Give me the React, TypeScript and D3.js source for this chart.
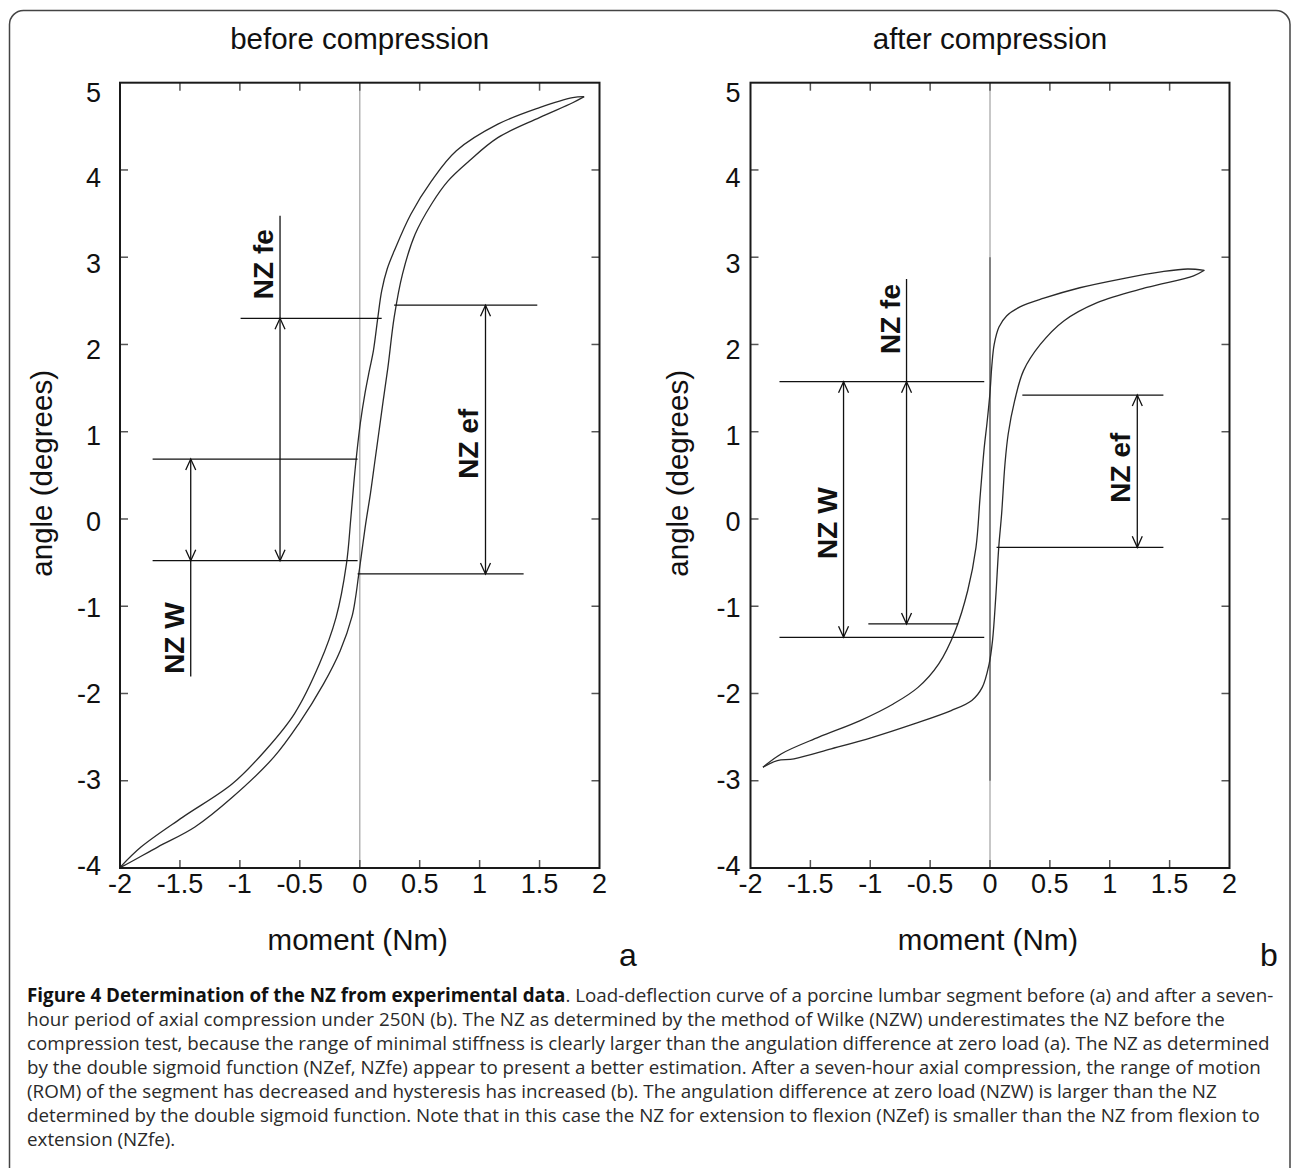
import * as d3 from 'd3';
import React from 'react';

const WIDTH = 1293;
const HEIGHT = 1168;
const PLOT_TOP = 82.7;
const PLOT_BOTTOM = 868;

const X_TICKS = [-2, -1.5, -1, -0.5, 0, 0.5, 1, 1.5, 2];
const Y_TICKS = [-4, -3, -2, -1, 0, 1, 2, 3, 4, 5];

type Pt = [number, number];

// before compression: loading branch (upper/left) and unloading branch (lower/right)
const BEFORE_UP: Pt[] = [
  [-1.998, -3.99], [-1.825, -3.76], [-1.479, -3.42], [-1.063, -3.035], [-0.786, -2.65],
  [-0.544, -2.23], [-0.336, -1.66], [-0.198, -1.13], [-0.111, -0.515], [-0.075, 0.0],
  [-0.05, 0.4], [-0.025, 0.75], [0.005, 1.1], [0.045, 1.45], [0.08, 1.7], [0.114, 1.93],
  [0.15, 2.3], [0.183, 2.615], [0.23, 2.87], [0.287, 3.07], [0.425, 3.49], [0.599, 3.875],
  [0.806, 4.22], [1.152, 4.525], [1.499, 4.715], [1.776, 4.83], [1.872, 4.84],
];
const BEFORE_DOWN: Pt[] = [
  [1.872, 4.84], [1.776, 4.77], [1.499, 4.6], [1.152, 4.37], [0.91, 4.1], [0.737, 3.875],
  [0.599, 3.61], [0.461, 3.26], [0.357, 2.81], [0.287, 2.31], [0.235, 1.737],
  [0.195, 1.35], [0.16, 1.0], [0.125, 0.65], [0.09, 0.3], [0.05, -0.05], [0.015, -0.4],
  [-0.01, -0.65], [-0.035, -0.9], [-0.065, -1.12], [-0.163, -1.51], [-0.302, -1.89],
  [-0.51, -2.35], [-0.717, -2.73], [-1.063, -3.19], [-1.375, -3.53], [-1.686, -3.76],
  [-1.963, -3.97], [-1.998, -3.99],
];

// after compression
const AFTER_UP: Pt[] = [
  [-1.896, -2.845], [-1.741, -2.69], [-1.43, -2.5], [-1.084, -2.31], [-0.808, -2.12],
  [-0.601, -1.93], [-0.428, -1.66], [-0.29, -1.28], [-0.186, -0.82], [-0.117, -0.325],
  [-0.083, 0.247], [-0.048, 0.82], [-0.025, 1.1], [0.0, 1.45], [0.015, 1.75],
  [0.035, 2.0], [0.075, 2.2], [0.14, 2.33], [0.25, 2.43], [0.45, 2.53], [0.75, 2.65],
  [1.09, 2.75], [1.44, 2.835], [1.65, 2.865], [1.79, 2.85],
];
const AFTER_DOWN: Pt[] = [
  [1.79, 2.85], [1.7, 2.787], [1.31, 2.653], [0.895, 2.48], [0.616, 2.27], [0.42, 2.0],
  [0.28, 1.7], [0.205, 1.35], [0.152, 0.974], [0.125, 0.63], [0.097, 0.057],
  [0.073, -0.325], [0.048, -0.898], [0.021, -1.394], [-0.007, -1.66], [-0.065, -1.93],
  [-0.152, -2.08], [-0.324, -2.196], [-0.635, -2.348], [-0.981, -2.502],
  [-1.326, -2.635], [-1.637, -2.749], [-1.776, -2.769], [-1.896, -2.845],
];

// horizontal marker lines: [angle, moment from, moment to]
const BEFORE_LEVELS: [number, number, number][] = [
  [2.3, -0.994, 0.183],
  [2.45, 0.287, 1.481],
  [-0.63, -0.018, 1.367],
  [0.687, -1.728, -0.018],
  [-0.478, -1.728, -0.018],
];
const AFTER_LEVELS: [number, number, number][] = [
  [1.573, -1.758, -0.048],
  [-1.356, -1.758, -0.048],
  [-1.203, -1.016, -0.266],
  [1.42, 0.27, 1.448],
  [-0.325, 0.055, 1.448],
];

// vertical arrows: [moment, line top, line bottom, arrow up at, arrow down at]
const BEFORE_ARROWS: [number, number, number, number, number][] = [
  [-0.665, 3.474, -0.478, 2.3, -0.478],
  [1.049, 2.45, -0.63, 2.45, -0.63],
  [-1.41, 0.687, -1.806, 0.687, -0.478],
];
const AFTER_ARROWS: [number, number, number, number, number][] = [
  [-1.223, 1.573, -1.356, 1.573, -1.356],
  [-0.697, 2.75, -1.203, 1.573, -1.203],
  [1.23, 1.42, -0.325, 1.42, -0.325],
];

// rotated labels: [text, moment of its arrow, angle at label centre]
const BEFORE_LABELS: [string, number, number][] = [
  ['NZ fe', -0.665, 2.92],
  ['NZ ef', 1.049, 0.863],
  ['NZ W', -1.41, -1.365],
];
const AFTER_LABELS: [string, number, number][] = [
  ['NZ fe', -0.697, 2.292],
  ['NZ W', -1.223, -0.048],
  ['NZ ef', 1.23, 0.588],
];

const CAPTION_BOLD = 'Figure 4 Determination of the NZ from experimental data';
const CAPTION_LINES = [
  '. Load-deflection curve of a porcine lumbar segment before (a) and after a seven-',
  'hour period of axial compression under 250N (b). The NZ as determined by the method of Wilke (NZW) underestimates the NZ before the',
  'compression test, because the range of minimal stiffness is clearly larger than the angulation difference at zero load (a). The NZ as determined',
  'by the double sigmoid function (NZef, NZfe) appear to present a better estimation. After a seven-hour axial compression, the range of motion',
  '(ROM) of the segment has decreased and hysteresis has increased (b). The angulation difference at zero load (NZW) is larger than the NZ',
  'determined by the double sigmoid function. Note that in this case the NZ for extension to flexion (NZef) is smaller than the NZ from flexion to',
  'extension (NZfe).',
];

const FONT = 'Arial, "Liberation Sans", sans-serif';

type PanelProps = {
  x0: number;
  x1: number;
  title: string;
  letter: string;
  letterX: number;
  up: Pt[];
  down: Pt[];
  levels: [number, number, number][];
  arrows: [number, number, number, number, number][];
  labels: [string, number, number][];
  tickGap: number;
  yTitleX: number;
  darkZero?: [number, number];
};

const Panel = (p: PanelProps) => {
  const x = d3.scaleLinear().domain([-2, 2]).range([p.x0, p.x1]);
  const y = d3.scaleLinear().domain([-4, 5]).range([PLOT_BOTTOM, PLOT_TOP]);
  // the tick labels sit on a slightly tighter grid than the ticks
  const yl = d3.scaleLinear().domain([-4, 5]).range([865.5, 92.5]);
  const line = d3
    .line<Pt>()
    .x((d) => x(d[0]))
    .y((d) => y(d[1]))
    .curve(d3.curveCatmullRom.alpha(0.5));
  const cx = (p.x0 + p.x1) / 2;
  const tick = 8;

  const arrowHead = (ax: number, ay: number, dir: number) =>
    `M${ax - 5},${ay + dir * 11}L${ax},${ay}L${ax + 5},${ay + dir * 11}`;

  return (
    <g>
      <text x={cx} y={49.3} textAnchor="middle" fontSize={29.5} fontFamily={FONT} fill="#111">
        {p.title}
      </text>

      {/* zero line */}
      <line x1={x(0)} x2={x(0)} y1={PLOT_TOP} y2={PLOT_BOTTOM} stroke="#b4b4b4" strokeWidth={1.5} />
      {p.darkZero && (
        <line
          x1={x(0)}
          x2={x(0)}
          y1={y(p.darkZero[1])}
          y2={y(p.darkZero[0])}
          stroke="#7a7a7a"
          strokeWidth={1.8}
        />
      )}

      {/* ticks on all four sides, pointing inwards */}
      <g stroke="#555" strokeWidth={1.5}>
        {X_TICKS.slice(1, -1).map((t) => (
          <g key={'x' + t}>
            <line x1={x(t)} x2={x(t)} y1={PLOT_BOTTOM} y2={PLOT_BOTTOM - tick} />
            <line x1={x(t)} x2={x(t)} y1={PLOT_TOP} y2={PLOT_TOP + tick} />
          </g>
        ))}
        {Y_TICKS.slice(1, -1).map((t) => (
          <g key={'y' + t}>
            <line x1={p.x0} x2={p.x0 + tick} y1={y(t)} y2={y(t)} />
            <line x1={p.x1} x2={p.x1 - tick} y1={y(t)} y2={y(t)} />
          </g>
        ))}
      </g>

      {/* hysteresis loop */}
      <g fill="none" stroke="#2a2a2a" strokeWidth={1.3}>
        <path d={line(p.up) || ''} />
        <path d={line(p.down) || ''} />
      </g>

      {/* NZ markers */}
      <g fill="none" stroke="#111" strokeWidth={1.3}>
        {p.levels.map(([a, m0, m1], i) => (
          <line key={'l' + i} x1={x(m0)} x2={x(m1)} y1={y(a)} y2={y(a)} />
        ))}
        {p.arrows.map(([m, top, bottom, up, down], i) => (
          <g key={'a' + i}>
            <line x1={x(m)} x2={x(m)} y1={y(top)} y2={y(bottom)} />
            <path d={arrowHead(x(m), y(up), 1)} />
            <path d={arrowHead(x(m), y(down), -1)} />
          </g>
        ))}
      </g>
      {p.labels.map(([txt, m, a]) => (
        <text
          key={txt}
          transform={`translate(${x(m) - 7},${y(a)}) rotate(-90)`}
          textAnchor="middle"
          fontSize={28}
          fontWeight="bold"
          fontFamily={FONT}
          fill="#111"
        >
          {txt}
        </text>
      ))}

      {/* frame */}
      <rect
        x={p.x0}
        y={PLOT_TOP}
        width={p.x1 - p.x0}
        height={PLOT_BOTTOM - PLOT_TOP}
        fill="none"
        stroke="#1a1a1a"
        strokeWidth={2}
      />

      {/* tick labels */}
      <g fontSize={27} fontFamily={FONT} fill="#111">
        {Y_TICKS.map((t) => (
          <text key={'yl' + t} x={p.x0 - p.tickGap} y={yl(t)} textAnchor="end" dominantBaseline="central">
            {t}
          </text>
        ))}
        {X_TICKS.map((t) => (
          <text key={'xl' + t} x={x(t)} y={884} textAnchor="middle" dominantBaseline="central">
            {t}
          </text>
        ))}
      </g>

      <text x={cx - 2} y={950} textAnchor="middle" fontSize={29.5} fontFamily={FONT} fill="#111">
        moment (Nm)
      </text>
      <text
        transform={`translate(${p.yTitleX},${(PLOT_TOP + PLOT_BOTTOM) / 2 - 2}) rotate(-90)`}
        textAnchor="middle"
        fontSize={29.5}
        fontFamily={FONT}
        fill="#111"
      >
        angle (degrees)
      </text>
      <text x={p.letterX} y={966} textAnchor="middle" fontSize={32} fontFamily={FONT} fill="#111">
        {p.letter}
      </text>
    </g>
  );
};

const App = () => {
  const r = 14;
  const frame = `M9.5,${HEIGHT + 5}V${10.5 + r}A${r},${r} 0 0 1 ${9.5 + r},10.5H${1290 - r}A${r},${r} 0 0 1 1290,${10.5 + r}V${HEIGHT + 5}`;
  return (
    <svg
      width={WIDTH}
      height={HEIGHT}
      viewBox={`0 0 ${WIDTH} ${HEIGHT}`}
      style={{ position: 'absolute', left: 0, top: 0, background: '#fff' }}
    >
      <rect width={WIDTH} height={HEIGHT} fill="#fff" />
      <path d={frame} fill="none" stroke="#444" strokeWidth={1.5} />
      <Panel
        x0={120}
        x1={599.5}
        title="before compression"
        letter="a"
        letterX={628}
        up={BEFORE_UP}
        down={BEFORE_DOWN}
        levels={BEFORE_LEVELS}
        arrows={BEFORE_ARROWS}
        labels={BEFORE_LABELS}
        tickGap={19}
        yTitleX={52}
      />
      <Panel
        x0={750.5}
        x1={1229.5}
        title="after compression"
        letter="b"
        letterX={1269}
        up={AFTER_UP}
        down={AFTER_DOWN}
        levels={AFTER_LEVELS}
        arrows={AFTER_ARROWS}
        labels={AFTER_LABELS}
        tickGap={10}
        yTitleX={688}
        darkZero={[-3, 3]}
      />
      <g fontFamily='"Open Sans", sans-serif' fontSize={18.8} fill="#2a2a2a">
        {CAPTION_LINES.map((ln, i) => (
          <text key={i} x={27} y={1002 + i * 24}>
            {i === 0 && (
              <tspan fontWeight="bold" fill="#111">
                {CAPTION_BOLD}
              </tspan>
            )}
            {ln}
          </text>
        ))}
      </g>
    </svg>
  );
};

export default App;
